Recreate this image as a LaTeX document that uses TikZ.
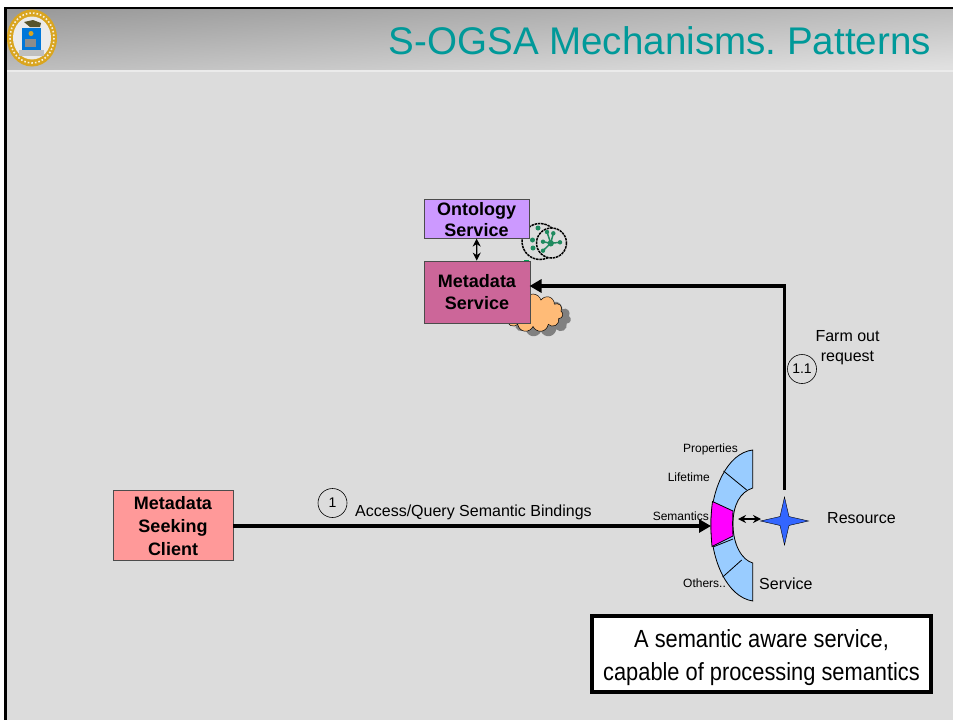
\documentclass[tikz,border=0pt]{standalone}
\usepackage{fontspec}
\setmainfont{Liberation Sans}
\newfontfamily\narrowfont[FakeStretch=0.88]{Liberation Sans}
\usetikzlibrary{shapes.geometric,shapes.symbols,arrows.meta}
\definecolor{bodygrey}{HTML}{DCDCDC}
\definecolor{headdark}{HTML}{9A9A9A}
\definecolor{headlight}{HTML}{E0E0E0}
\definecolor{titleteal}{HTML}{009999}
\definecolor{ontofill}{HTML}{CC99FF}
\definecolor{metafill}{HTML}{CC6699}
\definecolor{clientfill}{HTML}{FF9999}
\definecolor{slotblue}{HTML}{99CCFF}
\definecolor{slotpink}{HTML}{FF00FF}
\definecolor{starblue}{HTML}{3366FF}
\definecolor{cloudfill}{HTML}{FFBB77}
\definecolor{netgreen}{HTML}{1F8A5F}
\definecolor{crestgold}{HTML}{D9A520}
\tikzset{
  svcbox/.style={draw=black!70!white,line width=.8pt,align=center,inner sep=0pt,font=\fontsize{18}{22}\selectfont\bfseries},
  biglink/.style={line width=3.6pt,-{Triangle[length=12pt,width=13pt]}},
  thinlink/.style={line width=1.3pt,{Stealth[length=8pt,width=8pt]}-{Stealth[length=8pt,width=8pt]}},
  smalltext/.style={font=\fontsize{12}{14}\selectfont,inner sep=0pt},
  midtext/.style={font=\fontsize{16}{20}\selectfont,inner sep=0pt,align=center},
  stepmark/.style={circle,draw=black,line width=.6pt,minimum size=29pt,inner sep=0pt,font=\fontsize{14}{16}\selectfont},
  slotline/.style={draw=black,line width=.8pt},
  globe/.style={draw=black,line width=1.5pt,dash pattern=on 2.5pt off .8pt,fill=bodygrey}
}
\begin{document}
\begin{tikzpicture}[x=1pt,y=-1pt]
\useasboundingbox (0,0) rectangle (953,720);
\fill[white] (0,0) rectangle (953,720);
\fill[bodygrey] (5,8) rectangle (953,720);
\shade[top color=headdark,bottom color=headlight,shading angle=3.7] (5,8) rectangle (953,70);
\fill[white!92!black] (5,70) rectangle (953,72);
\draw[black,line width=2.6pt] (5.5,720) -- (5.5,8) -- (953,8);
% crest
\fill[crestgold] (32,38) ellipse (25 and 28.5);
\draw[white!85!crestgold,line width=1.6pt,dotted] (32,38) ellipse (22 and 25);
\fill[white!92!black] (32,38) ellipse (19 and 21.5);
\fill[black!50!olive] (24,22) -- (30,27) -- (40,27) -- (41,23) -- (33,20) -- cycle;
\fill[white!75!black] (19,50) rectangle (44,56);
\fill[blue!45!cyan!85!black] (22,28) rectangle (41,50);
\fill[crestgold] (31,33.5) circle (2.5);
\fill[black!45!white] (25,39) rectangle (36,47);
\node[anchor=east,font=\frenchspacing\fontsize{38.55}{42}\selectfont,text=titleteal,inner sep=0pt] (title) at (931,41) {S-OGSA Mechanisms. Patterns};
% globes
\path[globe] (540,241.5) circle (18);
\foreach \ax/\ay in {532.5/240,533/248,538/228}{
  \fill[netgreen] (\ax,\ay) circle (2.5);
}
\path[globe] (551.5,243) circle (15);
\foreach \ax/\ay in {543/241.7,560/242.3,543/250.7,553.3/233.3,547/232}{
  \draw[netgreen,line width=1.5pt] (550.7,243.3) -- (\ax,\ay);
  \fill[netgreen] (\ax,\ay) circle (2.2);
}
\fill[netgreen] (550.7,243.3) circle (3.2);
\fill[teal!70!green] (524,259.5) rectangle (529,261);
% cloud
\node[cloud,cloud puffs=11,aspect=1.7,fill=black!50,minimum width=60pt,minimum height=38pt,inner sep=0pt] (cloudshadow) at (541,318) {};
\node[cloud,cloud puffs=11,aspect=1.7,draw=black,line width=.5pt,fill=cloudfill,minimum width=60pt,minimum height=38pt,inner sep=0pt] (cloudback) at (533,313) {};
% boxes
\node[svcbox,fill=ontofill,minimum width=105pt,minimum height=39pt,font=\fontsize{18}{21}\selectfont\bfseries] (ontology) at (476.5,218.7) {\rule{0pt}{15pt}Ontology\\Service};
\node[svcbox,fill=metafill,minimum width=106pt,minimum height=62pt] (metadata) at (477,292) {Metadata\\Service};
\node[svcbox,fill=clientfill,minimum width=120pt,minimum height=70pt,font=\fontsize{18}{23}\selectfont\bfseries] (client) at (173,525) {\rule{0pt}{16pt}Metadata\\Seeking\\Client};
\draw[thinlink] (ontology) -- (metadata);
% service slots
\filldraw[slotline,fill=slotblue] (752.7,450) .. controls (727,453) and (711,490) .. (711,524)
  .. controls (711,560) and (727,597) .. (752.7,601) -- (752.7,563)
  .. controls (742,560) and (733,545) .. (733,524) .. controls (733,505) and (740,492) .. (752.7,488) -- cycle;
\draw[slotline] (723.5,471) -- (746.7,490);
\draw[slotline] (722.7,577) -- (741.7,560);
\draw[slotline] (713,547) -- (733,539);
\filldraw[slotline,fill=slotpink] (712.5,501.5) -- (733,511) .. controls (732.5,519) and (732.5,528) .. (733,536)
  -- (712,546.5) .. controls (710.5,531) and (710.5,516) .. (712.5,501.5) -- cycle;
\coordinate (slotin) at (711,526);
\coordinate (slotout) at (738,519);
\coordinate (metain) at (529.5,286);
\node[star,star points=4,star point ratio=3.8,fill=starblue,draw=black,line width=.4pt,minimum size=48pt,inner sep=0pt] (resource) at (784.5,521) {};
\coordinate (starleft) at (761,519);
\draw[thinlink] (slotout) -- (starleft);
\draw[biglink] (client.east |- slotin) -- (slotin);
\draw[biglink,shorten <=6.5pt] (resource.north) |- (metain);
% labels
\node[stepmark] (stepone) at (332.5,503) {1};
\node[stepmark] (steptwo) at (802,369) {1.1};
\node[midtext,anchor=west] (access) at (355,512.5) {Access/Query Semantic Bindings};
\node[midtext] (farm) at (847.5,348) {Farm out\\request};
\node[midtext,anchor=west] (resname) at (827,518) {Resource};
\node[midtext,anchor=west] (svcname) at (759,584) {Service};
\node[smalltext,anchor=east] (props) at (738,449) {Properties};
\node[smalltext,anchor=east] (life) at (710,477) {Lifetime};
\node[smalltext,anchor=east] (sem) at (709,516) {Semantics};
\node[smalltext,anchor=west] (others) at (683,583) {Others..};
\node[draw=black,line width=4pt,fill=white,minimum width=339pt,minimum height=76pt,align=center,inner sep=0pt,font=\narrowfont\fontsize{24.8}{33}\selectfont] (note) at (761.5,654) {\rule{0pt}{26pt}A semantic aware service,\\capable of processing semantics};
\end{tikzpicture}
\end{document}
